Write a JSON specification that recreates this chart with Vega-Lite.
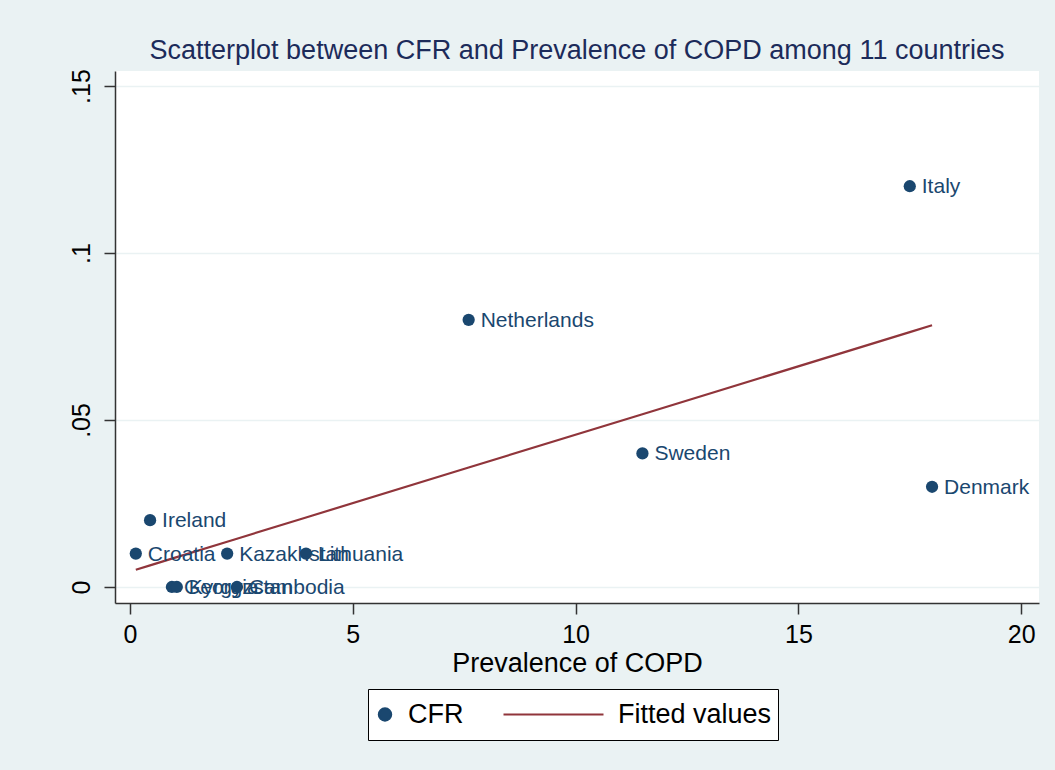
{
  "$schema": "https://vega.github.io/schema/vega-lite/v6.json",
  "width": 924,
  "height": 532,
  "autosize": {"type": "none"},
  "padding": {"left": 115, "top": 71, "right": 16, "bottom": 167},
  "background": "#EAF2F3",
  "title": {
    "text": "Scatterplot between CFR and Prevalence of COPD among 11 countries",
    "font": "Liberation Sans",
    "fontSize": 27,
    "fontWeight": "normal",
    "color": "#1c2b5a",
    "anchor": "middle",
    "offset": 4
  },
  "config": {
    "view": {"fill": "white", "stroke": null},
    "font": "Liberation Sans",
    "axis": {
      "labelFont": "Liberation Sans",
      "titleFont": "Liberation Sans",
      "labelColor": "black",
      "titleColor": "black",
      "labelFontSize": 25,
      "titleFontSize": 27,
      "titleFontWeight": "normal",
      "domainColor": "#333333",
      "domainWidth": 1.5,
      "tickColor": "#333333",
      "tickWidth": 1.5,
      "tickSize": 11
    }
  },
  "data": {
    "values": [
      {"country": "Croatia", "prevalence": 0.13, "cfr": 0.01, "fitted": 0.00516},
      {"country": "Ireland", "prevalence": 0.45, "cfr": 0.02, "fitted": 0.00647},
      {"country": "Georgia", "prevalence": 0.94, "cfr": 0.0, "fitted": 0.00848},
      {"country": "Kyrgyzstan", "prevalence": 1.05, "cfr": 0.0, "fitted": 0.00893},
      {"country": "Kazakhstan", "prevalence": 2.18, "cfr": 0.01, "fitted": 0.01356},
      {"country": "Cambodia", "prevalence": 2.4, "cfr": 0.0, "fitted": 0.01446},
      {"country": "Lithuania", "prevalence": 3.95, "cfr": 0.01, "fitted": 0.02081},
      {"country": "Netherlands", "prevalence": 7.6, "cfr": 0.08, "fitted": 0.03576},
      {"country": "Sweden", "prevalence": 11.5, "cfr": 0.04, "fitted": 0.05173},
      {"country": "Italy", "prevalence": 17.5, "cfr": 0.12, "fitted": 0.07631},
      {"country": "Denmark", "prevalence": 18.0, "cfr": 0.03, "fitted": 0.07836}
    ]
  },
  "encoding": {
    "x": {
      "field": "prevalence",
      "type": "quantitative",
      "scale": {"domain": [-0.337, 20.4], "nice": false, "zero": false},
      "axis": {
        "title": "Prevalence of COPD",
        "values": [0, 5, 10, 15, 20],
        "grid": false,
        "labelPadding": 8,
        "titlePadding": 3
      }
    }
  },
  "layer": [
    {
      "mark": {"type": "line", "strokeWidth": 2.2},
      "encoding": {
        "y": {
          "field": "fitted",
          "type": "quantitative",
          "scale": {"domain": [-0.0048, 0.1545], "nice": false, "zero": false},
          "axis": {
            "title": null,
            "values": [0, 0.05, 0.1, 0.15],
            "labelExpr": "datum.value == 0 ? '0' : replace(toString(datum.value), '0.', '.')",
            "labelAngle": -90,
            "labelAlign": "center",
            "labelBaseline": "bottom",
            "labelPadding": 10,
            "grid": true,
            "gridColor": "#EAF2F3",
            "gridWidth": 1.5
          }
        },
        "order": {"field": "prevalence", "type": "quantitative"},
        "color": {
          "datum": "Fitted values",
          "type": "nominal",
          "scale": {"domain": ["CFR", "Fitted values"], "range": ["#1a476f", "#90353b"]},
          "legend": {
            "title": null,
            "orient": "none",
            "legendX": 253,
            "legendY": 618,
            "direction": "horizontal",
            "clipHeight": 39,
            "columnPadding": 38,
            "labelFont": "Liberation Sans",
            "labelFontSize": 27,
            "labelColor": "black",
            "labelOffset": 9,
            "fillColor": "white",
            "strokeColor": "black",
            "padding": 6,
            "encode": {
              "symbols": {
                "update": {
                  "shape": {"signal": "datum.value === 'CFR' ? 'circle' : 'stroke'"},
                  "size": {"signal": "datum.value === 'CFR' ? 150 : 10000"},
                  "fill": {"signal": "datum.value === 'CFR' ? '#1a476f' : 'transparent'"},
                  "stroke": {"signal": "datum.value === 'CFR' ? 'transparent' : '#90353b'"},
                  "x": {"signal": "datum.value === 'CFR' ? 11 : 51.5"},
                  "strokeWidth": {"value": 2.2},
                  "opacity": {"value": 1}
                }
              },
              "labels": {
                "update": {
                  "x": {"signal": "datum.value === 'CFR' ? 34 : 116"}
                }
              }
            }
          }
        }
      }
    },
    {
      "mark": {"type": "point", "filled": true, "opacity": 1, "size": 150, "color": "#1a476f"},
      "encoding": {
        "y": {"field": "cfr", "type": "quantitative"}
      }
    },
    {
      "mark": {"type": "text", "align": "left", "baseline": "middle", "dx": 12, "dy": 1, "fontSize": 21, "font": "Liberation Sans", "color": "#1a476f"},
      "encoding": {
        "y": {"field": "cfr", "type": "quantitative"},
        "text": {"field": "country"}
      }
    }
  ]
}
